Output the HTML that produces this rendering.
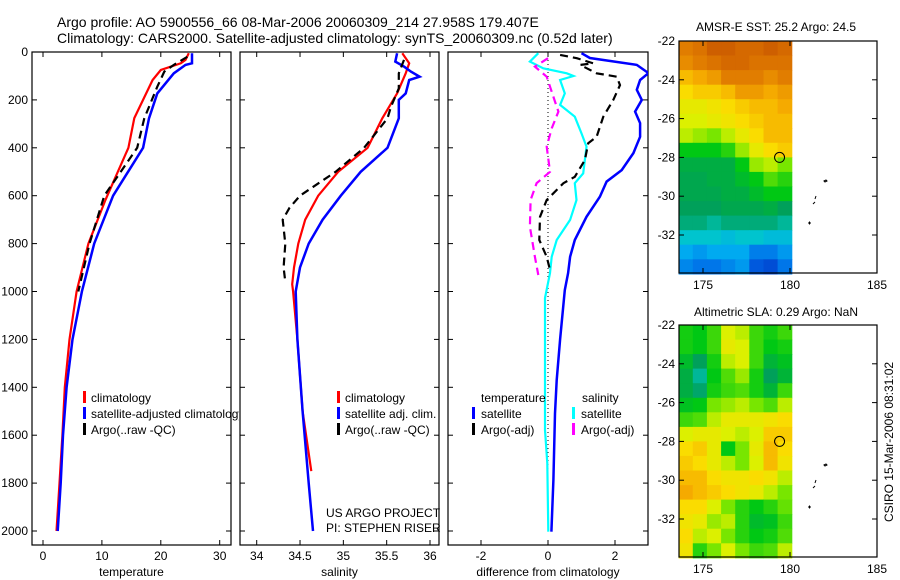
<!DOCTYPE html>
<html><head><meta charset="utf-8"><style>
html,body{margin:0;padding:0;background:#fff;}
svg{display:block;font-family:"Liberation Sans",sans-serif;}
text{fill:#000;}
</style></head><body>
<svg id="fig" width="900" height="580" viewBox="0 0 900 580">
<defs>
<clipPath id="c1"><rect x="32" y="52" width="199" height="493"/></clipPath>
<clipPath id="c2"><rect x="240" y="52" width="199" height="493"/></clipPath>
<clipPath id="c3"><rect x="448" y="52" width="200" height="493"/></clipPath>
<clipPath id="c1l"><rect x="32" y="52" width="207" height="493"/></clipPath>
</defs>
<text x="57" y="27" font-size="14">Argo profile: AO 5900556_66 08-Mar-2006 20060309_214 27.958S 179.407E</text>
<text x="57" y="43" font-size="14">Climatology: CARS2000. Satellite-adjusted climatology: synTS_20060309.nc (0.52d later)</text>
<g id="g1"></g>
<g id="g2"></g>
<g id="g3"></g>
<g id="m1"></g>
<g id="m2"></g>
<text x="776" y="31" font-size="12" text-anchor="middle">AMSR-E SST: 25.2 Argo: 24.5</text>
<text x="776" y="316" font-size="12" text-anchor="middle">Altimetric SLA: 0.29 Argo: NaN</text>
<text x="0" y="0" font-size="12" text-anchor="middle" transform="translate(893,442) rotate(-90)">CSIRO 15-Mar-2006 08:31:02</text>
</svg>
<script>
// ---- data ----
const depthTicks=[0,200,400,600,800,1000,1200,1400,1600,1800,2000];
const tempTicks=[0,10,20,30];
const salTicks=[34,34.5,35,35.5,36];
const diffTicks=[-2,0,2];
const tClimD=[5,33,47,75,117,276,400,618,800,1000,1200,1400,1600,1800,2000];
const tClimV=[24.75,24.2,23.4,20,18.6,15.5,14.5,10.6,7.7,5.7,4.5,3.7,3.3,2.8,2.3];
const tSatD=[5,47,54,89,173,277,400,600,800,1000,1200,1400,1600,1800,2000];
const tSatV=[25.3,25.3,24.2,22.2,19.4,18.0,17,11.9,8.7,6.6,5.0,4.0,3.4,3.0,2.5];
const tArgD=[20,54,82,145,277,400,600,800,1000];
const tArgV=[24.5,22.2,20.6,19.4,17.2,16,10.4,7.9,6.0];
const sClimD=[5,47,89,173,277,400,500,600,700,800,900,970,1000,1200,1500,1750];
const sClimV=[35.68,35.76,35.72,35.62,35.45,35.28,34.94,34.71,34.56,34.48,34.43,34.41,34.42,34.47,34.53,34.63];
const sSatD=[5,40,61,82,103,117,173,200,277,400,500,600,700,800,900,1000,1200,1500,1800,2000];
const sSatV=[35.62,35.6,35.7,35.78,35.88,35.76,35.72,35.64,35.64,35.51,35.2,34.97,34.76,34.6,34.5,34.45,34.47,34.53,34.6,34.65];
const sArgD=[33,89,152,228,277,400,500,600,650,700,800,900,960];
const sArgV=[35.7,35.64,35.64,35.55,35.51,35.24,34.91,34.5,34.38,34.3,34.33,34.31,34.33];
const dTSatD=[5,25,54,88,117,158,200,249,297,354,422,493,541,604,688,785,855,923,994,1200,1370,1509,1787,2003];
const dTSatV=[1.0,1.25,2.65,3.0,2.75,2.65,2.8,2.6,2.75,2.75,2.55,2.2,1.75,1.55,1.15,0.8,0.66,0.6,0.5,0.36,0.26,0.21,0.16,0.1];
const dSSatD=[5,40,68,89,100,117,173,221,270,340,395,507,548,618,701,785,855,923,1027,1370,1578,1717,2003];
const dSSatV=[-0.29,-0.54,-0.14,0.56,0.76,0.36,0.5,0.36,0.8,1.0,1.15,1.05,0.8,0.85,0.66,0.26,0.11,0.06,-0.09,-0.09,-0.09,-0.02,0.01];
const dTArgD=[12,26,47,54,89,103,138,200,270,354,381,451,521,548,618,688,785,855,910];
const dTArgV=[0.36,0.86,1.35,0.96,1.45,2.05,2.15,1.95,1.65,1.45,1.2,1.1,0.8,0.46,-0.04,-0.24,-0.26,-0.04,0.06];
const dSArgD=[26,61,103,207,249,319,395,500,548,618,729,855,931];
const dSArgV=[0.0,-0.39,-0.04,0.21,0.31,0.11,-0.04,0.06,-0.34,-0.52,-0.54,-0.39,-0.29];
const lonTicks=[175,180,185];
const latTicks=[-22,-24,-26,-28,-30,-32];
const sstGrid=[
[.80,.82,.86,.86,.84,.84,.86,.84],[.78,.80,.82,.84,.84,.82,.82,.82],[.72,.74,.76,.80,.80,.80,.78,.80],
[.68,.70,.70,.72,.76,.76,.74,.76],[.64,.64,.66,.68,.70,.72,.72,.74],[.62,.62,.64,.66,.68,.70,.72,.72],
[.60,.58,.56,.60,.64,.68,.72,.72],[.50,.50,.50,.52,.58,.64,.68,.70],[.46,.46,.46,.46,.50,.58,.60,.56],
[.45,.45,.46,.46,.48,.50,.54,.52],[.45,.45,.45,.46,.46,.48,.50,.50],[.44,.44,.44,.45,.45,.45,.46,.44],
[.42,.42,.40,.42,.42,.42,.42,.40],[.36,.36,.36,.34,.36,.36,.34,.34],[.30,.28,.30,.30,.30,.25,.25,.28],
[.26,.24,.24,.26,.28,.20,.18,.24]];
const slaGrid=[
[.51,.50,.53,.62,.60,.53,.51,.53],[.51,.50,.53,.64,.62,.53,.50,.51],[.48,.44,.51,.60,.62,.53,.47,.49],
[.46,.40,.50,.54,.58,.51,.44,.47],[.46,.43,.51,.53,.54,.51,.47,.53],[.49,.50,.56,.58,.60,.56,.54,.60],
[.53,.54,.60,.64,.64,.64,.66,.68],[.62,.64,.64,.62,.60,.62,.70,.70],[.68,.70,.64,.50,.56,.64,.72,.68],
[.70,.68,.64,.60,.56,.62,.72,.66],[.72,.72,.68,.66,.66,.68,.66,.60],[.74,.72,.70,.68,.66,.64,.60,.56],
[.68,.68,.62,.56,.52,.50,.52,.55],[.66,.64,.58,.60,.52,.48,.49,.53],[.68,.60,.62,.56,.52,.50,.51,.54],
[.66,.52,.56,.62,.56,.53,.54,.60]];
const argoLon=[179.4];
const argoLat=[-28];
// ---- helpers ----
const NS='http://www.w3.org/2000/svg';
function mk(tag,attrs,parent){const e=document.createElementNS(NS,tag);for(const k in attrs)e.setAttribute(k,attrs[k]);parent.appendChild(e);return e;}
const yD=d=>52+d*0.2395;
function lin(d0,d1,r0,r1){return v=>r0+(v-d0)*(r1-r0)/(d1-d0);}
const xT=lin(0,30,43,219.7), xS=lin(34,36,256.7,430), xDf=lin(-2,2,481,615);
function frame(g,x0,x1,xs,xt,label,leftLabels){
  const r=mk('rect',{x:x0,y:52,width:x1-x0,height:493,fill:'none',stroke:'#000','stroke-width':1.2},g);
  
  
  depthTicks.forEach(d=>{const y=yD(d);
    mk('line',{x1:x0,y1:y,x2:x0+5,y2:y,stroke:'#000'},g);
    mk('line',{x1:x1,y1:y,x2:x1-5,y2:y,stroke:'#000'},g);
    if(leftLabels){const t=mk('text',{x:x0-4,y:y+4,'font-size':12,'text-anchor':'end'},g);t.textContent=d;
      
      }
  });
  xt.forEach(v=>{const x=xs(v);
    mk('line',{x1:x,y1:545,x2:x,y2:540,stroke:'#000'},g);
    mk('line',{x1:x,y1:52,x2:x,y2:57,stroke:'#000'},g);
    const t=mk('text',{x:x,y:560,'font-size':12,'text-anchor':'middle'},g);t.textContent=v;
    
    
  });
  const t=mk('text',{x:(x0+x1)/2,y:576,'font-size':12,'text-anchor':'middle'},g);t.textContent=label;
  
  
}
function line(g,clip,D,V,xs,color,dash,w,name){
  const p=D.map((d,i)=>(i?'L':'M')+xs(V[i]).toFixed(1)+','+yD(d).toFixed(1)).join('');
  const e=mk('path',{d:p,fill:'none',stroke:color,'stroke-width':w,'clip-path':'url(#'+clip+')'},g);
  if(dash)e.setAttribute('stroke-dasharray',dash);
  
  
}
function txt(g,x,y,s,name){const t=mk('text',{x:x,y:y,'font-size':12},g);t.textContent=s;
  
  return t;}
function mark(g,x,y,c){const r=mk('rect',{x:x,y:y-11,width:3,height:12,fill:c},g);
  
  }
// ---- panel 1 ----
const g1=document.getElementById('g1');
frame(g1,32,231,xT,tempTicks,'temperature',true);
line(g1,'c1',tClimD,tClimV,xT,'#f00',null,2.2,'temp-climatology-line');
line(g1,'c1',tSatD,tSatV,xT,'#00f',null,2.5,'temp-satellite-line');
line(g1,'c1',tArgD,tArgV,xT,'#000','8,5',2.2,'temp-argo-line');
mark(g1,83,402,'#f00');mark(g1,83,418,'#00f');mark(g1,83,434,'#000');
const lg=mk('g',{'clip-path':'url(#c1l)'},g1);
txt(lg,91,402,'climatology','legend-climatology');
txt(lg,91,418,'satellite-adjusted climatology','legend-satellite');
txt(lg,91,434,'Argo(..raw -QC)','legend-argo');
// ---- panel 2 ----
const g2=document.getElementById('g2');
frame(g2,240,439,xS,salTicks,'salinity',false);
line(g2,'c2',sClimD,sClimV,xS,'#f00',null,2.2,'sal-climatology-line');
line(g2,'c2',sSatD,sSatV,xS,'#00f',null,2.5,'sal-satellite-line');
line(g2,'c2',sArgD,sArgV,xS,'#000','8,5',2.2,'sal-argo-line');
mark(g2,337,402,'#f00');mark(g2,337,418,'#00f');mark(g2,337,434,'#000');
txt(g2,345,402,'climatology','legend-climatology');
txt(g2,345,418,'satellite adj. clim.','legend-satellite');
txt(g2,345,434,'Argo(..raw -QC)','legend-argo');
txt(g2,326,517,'US ARGO PROJECT','project-credit');
txt(g2,326,532,'PI: STEPHEN RISER','pi-credit');
// ---- panel 3 ----
const g3=document.getElementById('g3');
frame(g3,448,648,xDf,diffTicks,'difference from climatology',false);
const z=mk('line',{x1:xDf(0),y1:yD(0),x2:xDf(0),y2:yD(2000),stroke:'#000','stroke-dasharray':'1,3'},g3);


line(g3,'c3',dTSatD,dTSatV,xDf,'#00f',null,2.5,'temp-diff-satellite-line');
line(g3,'c3',dSSatD,dSSatV,xDf,'#0ff',null,2.2,'sal-diff-satellite-line');
line(g3,'c3',dTArgD,dTArgV,xDf,'#000','8,5',2.2,'temp-diff-argo-line');
line(g3,'c3',dSArgD,dSArgV,xDf,'#f0f','8,5',2.2,'sal-diff-argo-line');
txt(g3,481,402,'temperature','legend-temperature-header');
mark(g3,472,418,'#00f');mark(g3,472,434,'#000');
txt(g3,481,418,'satellite','legend-temp-satellite');
txt(g3,481,434,'Argo(-adj)','legend-temp-argo');
txt(g3,582,402,'salinity','legend-salinity-header');
mark(g3,572,418,'#0ff');mark(g3,572,434,'#f0f');
txt(g3,581,418,'satellite','legend-sal-satellite');
txt(g3,581,434,'Argo(-adj)','legend-sal-argo');
// ---- maps ----
const cmStops=[[0.15,[0,60,200]],[0.22,[0,100,230]],[0.30,[0,170,240]],[0.37,[0,200,200]],[0.44,[0,160,90]],
 [0.50,[0,200,20]],[0.56,[120,230,0]],[0.62,[220,240,0]],[0.68,[250,220,0]],[0.74,[245,170,0]],[0.80,[225,125,0]],[0.88,[200,85,0]]];
function cmap(v){
  if(v<=cmStops[0][0])return 'rgb('+cmStops[0][1]+')';
  for(let i=1;i<cmStops.length;i++){if(v<=cmStops[i][0]){const a=cmStops[i-1],b=cmStops[i],t=(v-a[0])/(b[0]-a[0]);
    return 'rgb('+a[1].map((c,k)=>Math.round(c+(b[1][k]-c)*t)).join(',')+')';}}
  return 'rgb('+cmStops[cmStops.length-1][1]+')';
}
function map(id,y0,grid,name){
  const g=document.getElementById(id);
  const xL=lin(175,180,703,790), yL=lin(-22,-32,y0,y0+194);
  const rows=grid.length, cols=grid[0].length;
  const lonA=173.6,lonB=180.1,latA=-22,latB=-34;
  grid.forEach((row,i)=>row.forEach((v,j)=>{
    const xa=xL(lonA+(lonB-lonA)*j/cols), xb=xL(lonA+(lonB-lonA)*(j+1)/cols);
    const ya=yL(latA+(latB-latA)*i/rows), yb=yL(latA+(latB-latA)*(i+1)/rows);
    const r=mk('rect',{x:xa.toFixed(1),y:ya.toFixed(1),width:(xb-xa+0.6).toFixed(1),height:(yb-ya+0.6).toFixed(1),fill:cmap(v)},g);
    
    
  }));
  const f=mk('rect',{x:679,y:y0,width:198,height:232,fill:'none',stroke:'#000','stroke-width':1.2},g);
  
  
  lonTicks.forEach(v=>{const x=xL(v);
    mk('line',{x1:x,y1:y0+232,x2:x,y2:y0+227,stroke:'#000'},g);
    mk('line',{x1:x,y1:y0,x2:x,y2:y0+5,stroke:'#000'},g);
    const t=mk('text',{x:x,y:y0+248,'font-size':12,'text-anchor':'middle'},g);t.textContent=v;
    
    });
  latTicks.forEach(v=>{const y=yL(v);
    mk('line',{x1:679,y1:y,x2:684,y2:y,stroke:'#000'},g);
    mk('line',{x1:877,y1:y,x2:872,y2:y,stroke:'#000'},g);
    const t=mk('text',{x:675,y:y+4,'font-size':12,'text-anchor':'end'},g);t.textContent=v;
    
    });
  const c=mk('circle',{cx:xL(argoLon[0]),cy:yL(argoLat[0]),r:5,fill:'none',stroke:'#000','stroke-width':1},g);
  
  
  const isl=mk('path',{d:'M824,'+(y0+140)+'l2,-1l1,1l-2,1zM815,'+(y0+158)+'l1,-3M813,'+(y0+163)+'l2,-2M808,'+(y0+182)+'l3,0M809.5,'+(y0+180.5)+'l0,3',stroke:'#000',fill:'none','stroke-width':1},g);
  
  
}
map('m1',41,sstGrid,'sst-map');
map('m2',325,slaGrid,'sla-map');
</script>
</body></html>
